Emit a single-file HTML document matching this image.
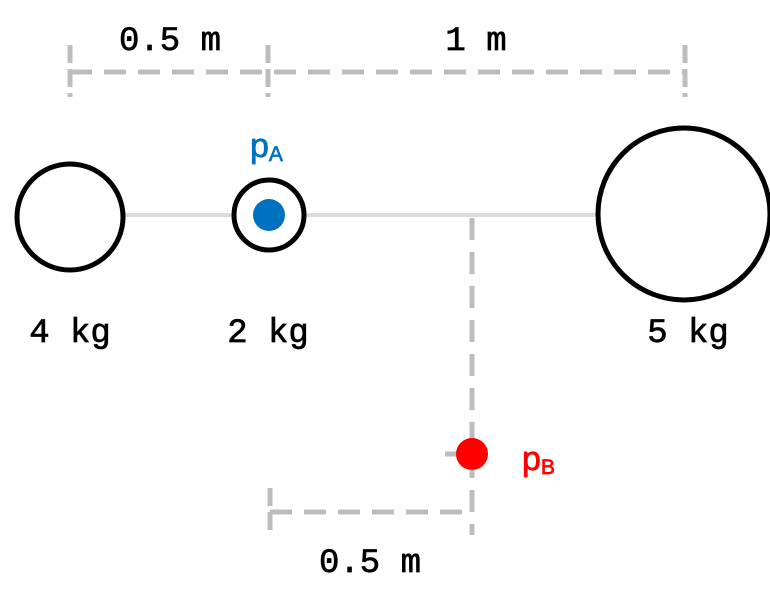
<!DOCTYPE html>
<html><head><meta charset="utf-8"><style>
html,body{margin:0;padding:0;background:#fff;}
svg{display:block;}
text{font-family:"Liberation Mono","DejaVu Sans Mono",monospace;font-size:34px;fill:#000;stroke:#000;stroke-width:0.7px;}
.lbl{font-family:"Liberation Sans","DejaVu Sans",sans-serif;}
</style></head><body>
<svg width="770" height="606" viewBox="0 0 770 606">
<g stroke="#bdbdbd" stroke-width="5" fill="none">
<line x1="70" y1="72" x2="685" y2="72" stroke-dasharray="22,12"/>
<line x1="70" y1="45" x2="70" y2="97" stroke-dasharray="18,6"/>
<line x1="268" y1="45" x2="268" y2="97" stroke-dasharray="18,6"/>
<line x1="685" y1="45" x2="685" y2="97" stroke-dasharray="18,6"/>
</g>
<text x="170" y="50" text-anchor="middle">0.5 m</text>
<text x="476" y="50" text-anchor="middle">1 m</text>
<line x1="70" y1="215" x2="685" y2="215" stroke="#dcdcdc" stroke-width="4"/>
<line x1="472" y1="218" x2="472" y2="535" stroke="#bdbdbd" stroke-width="5" stroke-dasharray="22,12"/>
<line x1="445" y1="454" x2="472" y2="454" stroke="#bdbdbd" stroke-width="5"/>
<circle cx="70" cy="217" r="53" fill="#fff" stroke="#000" stroke-width="5"/>
<circle cx="269" cy="215" r="35" fill="#fff" stroke="#000" stroke-width="5"/>
<circle cx="269" cy="215" r="16" fill="#0070c0"/>
<circle cx="684" cy="214" r="86" fill="#fff" stroke="#000" stroke-width="5"/>
<circle cx="472" cy="454" r="16" fill="#ff0000"/>
<text x="70" y="342" text-anchor="middle">4 kg</text>
<text x="268" y="342" text-anchor="middle">2 kg</text>
<text x="688" y="342" text-anchor="middle">5 kg</text>
<text class="lbl" x="250" y="157" style="fill:#0070c0;stroke:#0070c0;font-size:34px">p<tspan font-size="21" dy="4">A</tspan></text>
<text class="lbl" x="522" y="470" style="fill:#ff0000;stroke:#ff0000;font-size:34px">p<tspan font-size="21" dy="4">B</tspan></text>
<g stroke="#bdbdbd" stroke-width="5" fill="none">
<line x1="270" y1="512" x2="470" y2="512" stroke-dasharray="22,12"/>
<line x1="270" y1="488" x2="270" y2="535" stroke-dasharray="18,6"/>
</g>
<text x="370" y="572" text-anchor="middle">0.5 m</text>
</svg>
</body></html>
